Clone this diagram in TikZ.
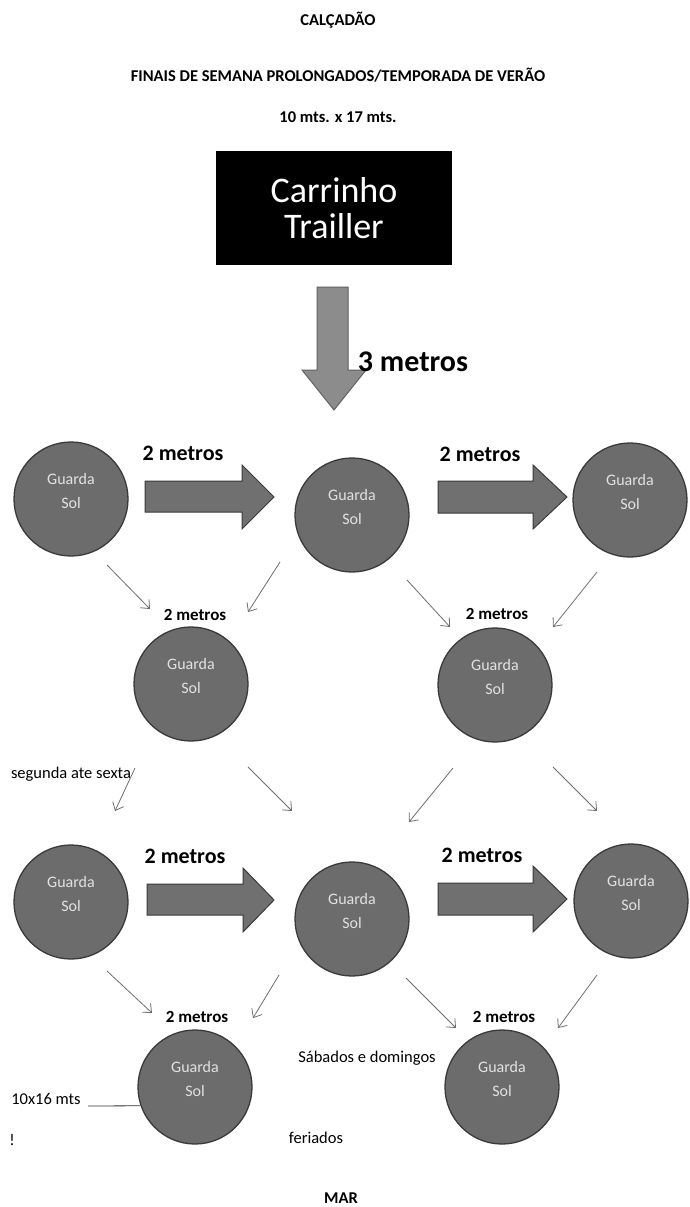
\documentclass[tikz,border=0pt]{standalone}
\usepackage{fontspec}
\setmainfont{Carlito}
\usetikzlibrary{arrows.meta}
\definecolor{solfill}{HTML}{6C6C6C}
\definecolor{soledge}{HTML}{3A3A3A}
\definecolor{arrfill}{HTML}{707070}
\definecolor{downfill}{HTML}{8C8C8C}
\definecolor{thin}{HTML}{6E6E6E}
\definecolor{soltext}{HTML}{E2E2E2}
\tikzset{
  sol/.style={circle, fill=solfill, draw=soledge, line width=1.3pt, minimum size=114pt, inner sep=0pt},
  soltxt/.style={text=soltext, align=center, font=\fontsize{16}{24}\selectfont},
  bigarr/.style={fill=arrfill, draw=soledge, line width=1pt},
  downarr/.style={fill=downfill, draw=soledge!80, line width=1pt},
  thinarr/.style={draw=thin, line width=0.8pt, -{Straight Barb[length=7pt,width=12pt]}},
  bigm/.style={font=\bfseries\fontsize{22}{26}\selectfont},
  smallm/.style={font=\bfseries\fontsize{17}{20}\selectfont},
  head/.style={font=\bfseries\fontsize{16.5}{20}\selectfont},
  plain/.style={font=\fontsize{16.5}{20}\selectfont},
}
\begin{document}
\begin{tikzpicture}[x=1pt,y=-1pt]
\useasboundingbox[fill=white] (0,0) rectangle (689,1207);

% titles
\node[head] (t1) at (338,20) {CALÇADÃO};
\node[head] (t2) at (338,75) {FINAIS DE SEMANA PROLONGADOS/TEMPORADA DE VERÃO};
\node[head] (t3) at (338,117) {10 mts. x 17 mts.};

% trailer box
\node[fill=black, minimum width=236pt, minimum height=114pt, text=white, align=center,
      font=\fontsize{36}{36}\selectfont] (box) at (334,208) {Carrinho\\Trailler};

% down arrow
\draw[downarr] (317,287) -- (348,287) -- (348,370) -- (366,370) -- (334,410) -- (302,370) -- (317,370) -- cycle;
\node[font=\bfseries\fontsize{30}{34}\selectfont] (l3m) at (413,362) {3 metros};

% circles
\foreach \n/\x/\y in {c11/71/499, c12/352/515, c13/630/500,
                      c21/191/684, c22/495/685,
                      c31/71/902, c32/352/919, c33/631/901,
                      c41/195/1087, c42/502/1087}{
  \node[sol] (\n) at (\x,\y) {};
  \node[soltxt] (\n t) at ([yshift=8pt]\n.center) {Guarda\\Sol};
}

% big right arrows
\draw[bigarr] (145,481) -- (242,481) -- (242,465) -- (274,497) -- (242,529) -- (242,512) -- (145,512) -- cycle;
\draw[bigarr] (438,481) -- (533,481) -- (533,465) -- (567,497) -- (533,529) -- (533,513) -- (438,513) -- cycle;
\draw[bigarr] (147,884) -- (243,884) -- (243,868) -- (274,900) -- (243,932) -- (243,915) -- (147,915) -- cycle;
\draw[bigarr] (438,883) -- (533,883) -- (533,866) -- (567,899) -- (533,932) -- (533,915) -- (438,915) -- cycle;

\node[bigm] (m1) at (183,453) {2 metros};
\node[bigm] (m2) at (480,454) {2 metros};
\node[bigm] (m3) at (185,856) {2 metros};
\node[bigm] (m4) at (482,855) {2 metros};

\node[smallm] (s1) at (195,615) {2 metros};
\node[smallm] (s2) at (497,614) {2 metros};
\node[smallm] (s3) at (197,1017) {2 metros};
\node[smallm] (s4) at (504,1017) {2 metros};

% thin arrows
\foreach \a/\b/\c/\d in {107/565/150/609, 280/562/248/612, 407/580/450/627, 597/572/553/627,
                         135/768/115/811, 248/767/292/811, 453/768/409/822, 553/767/597/811,
                         107/971/152/1013, 279/975/253/1018, 406/978/456/1028, 597/975/558/1028}{
  \draw[thinarr] (\a,\b) -- (\c,\d);
}

% other texts
\node[plain] (seg) at (71,774) {segunda ate sexta};
\node[plain] (sab) at (367,1058) {Sábados e domingos};
\node[plain] (fer) at (316,1138) {feriados};
\node[plain] (dim) at (46,1099) {10x16 mts};
\coordinate (dimend) at (88,1106);
\draw[line width=0.8pt, draw=black!80] (dimend) -- (c41.199.5);
\node[plain] (exc) at (12,1140) {!};
\node[head] (mar) at (341,1198) {MAR};
\end{tikzpicture}
\end{document}
